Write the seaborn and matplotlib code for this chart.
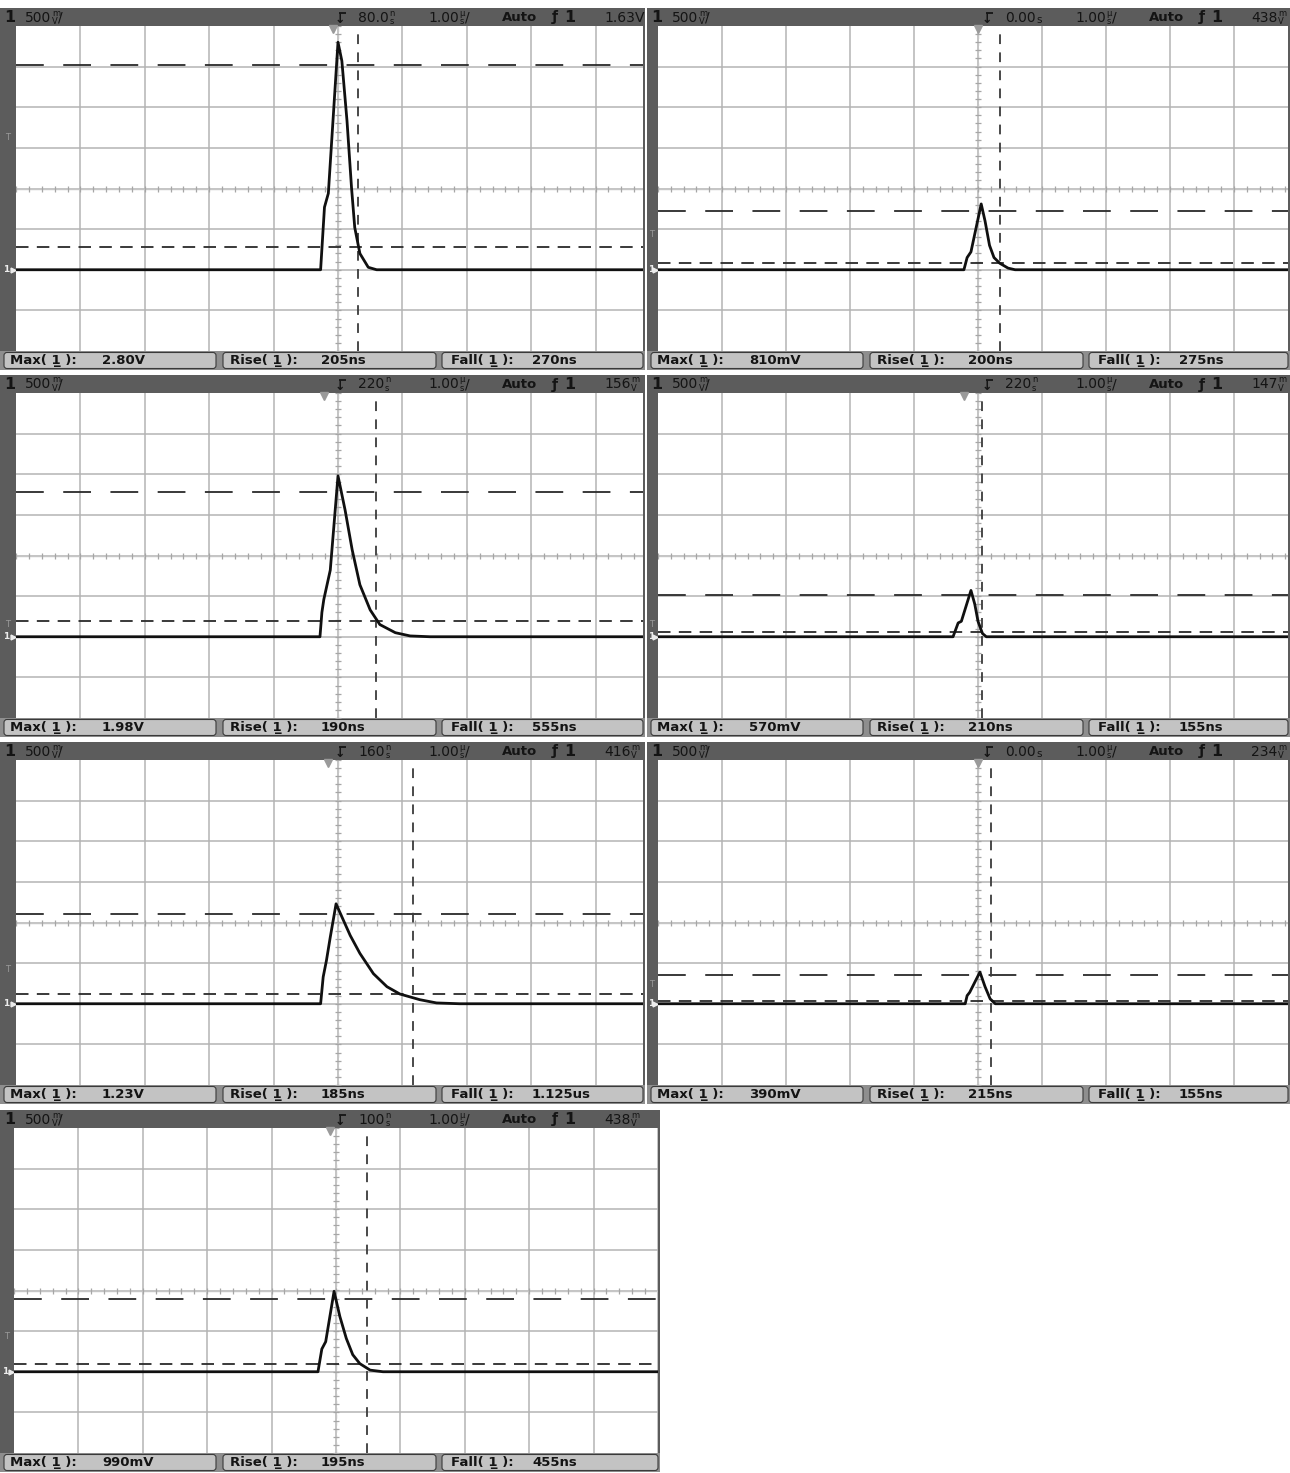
import numpy as np
import pandas as pd
import matplotlib
matplotlib.use("Agg")
import matplotlib.pyplot as plt
import seaborn as sns
from matplotlib.patches import Rectangle, FancyBboxPatch

# ---- values (time in us from screen centre, volts above ground) ----
p1_t = [-0.27, -0.21, -0.15, 0.00, 0.06, 0.14, 0.21, 0.26, 0.34, 0.47, 0.60]
p1_v = [0.00, 0.77, 0.94, 2.80, 2.57, 1.83, 1.01, 0.52, 0.20, 0.03, 0.00]
p2_t = [-0.22, -0.17, -0.11, 0.05, 0.11, 0.18, 0.25, 0.34, 0.47, 0.58]
p2_v = [0.00, 0.15, 0.22, 0.81, 0.60, 0.30, 0.15, 0.08, 0.02, 0.00]
p3_t = [-0.28, -0.25, -0.22, -0.12, 0.00, 0.11, 0.22, 0.34, 0.50, 0.65, 0.89, 1.12, 1.43]
p3_v = [0.00, 0.30, 0.46, 0.82, 1.98, 1.56, 1.07, 0.64, 0.33, 0.15, 0.05, 0.01, 0.00]
p4_t = [-0.39, -0.31, -0.26, -0.11, -0.05, 0.00, 0.07, 0.13]
p4_v = [0.00, 0.17, 0.19, 0.57, 0.40, 0.19, 0.04, 0.00]
p5_t = [-0.27, -0.23, -0.18, -0.12, -0.03, 0.06, 0.19, 0.34, 0.55, 0.76, 0.96, 1.27, 1.53, 1.89]
p5_v = [0.00, 0.33, 0.53, 0.82, 1.23, 1.07, 0.84, 0.62, 0.37, 0.21, 0.12, 0.05, 0.01, 0.00]
p6_t = [-0.20, -0.17, -0.13, 0.03, 0.11, 0.19, 0.27]
p6_v = [0.00, 0.10, 0.14, 0.39, 0.21, 0.06, 0.00]
p7_t = [-0.28, -0.22, -0.16, -0.03, 0.06, 0.16, 0.26, 0.37, 0.53, 0.73]
p7_v = [0.00, 0.28, 0.37, 0.99, 0.68, 0.41, 0.21, 0.10, 0.02, 0.00]

traces_t = [p1_t, p2_t, p3_t, p4_t, p5_t, p6_t, p7_t]
traces_v = [p1_v, p2_v, p3_v, p4_v, p5_v, p6_v, p7_v]

delay_num = ["80.0", "0.00", "220", "220", "160", "0.00", "100"]
delay_unit = ["ns", "s", "ns", "ns", "ns", "s", "ns"]
delay_us = [0.08, 0.0, 0.22, 0.22, 0.16, 0.0, 0.10]
trig_num = ["1.63", "438", "156", "147", "416", "234", "438"]
trig_unit = ["V", "mV", "mV", "mV", "mV", "mV", "mV"]
trig_level = [1.63, 0.438, 0.156, 0.147, 0.416, 0.234, 0.438]
max_text = ["2.80V", "810mV", "1.98V", "570mV", "1.23V", "390mV", "990mV"]
max_v = [2.80, 0.81, 1.98, 0.57, 1.23, 0.39, 0.99]
rise_text = ["205ns", "200ns", "190ns", "210ns", "185ns", "215ns", "195ns"]
fall_text = ["270ns", "275ns", "555ns", "155ns", "1.125us", "155ns", "455ns"]
marker_t = [0.31, 0.34, 0.59, 0.06, 1.16, 0.20, 0.48]

VOLTS_PER_DIV = 0.5
GROUND_DIV = -2

# ---- screen geometry (pixels) ----
W_PX, H_PX = 1290, 1473
PANEL_X = [0, 647, 0, 647, 0, 647, 0]
PANEL_W = [645, 643, 645, 643, 645, 643, 660]
ROW_TOP = [8, 8, 375, 375, 742, 742, 1110]
GRID_LEFT = [16, 11, 16, 11, 16, 11, 14]
GRID_RIGHT = [643, 641, 643, 641, 643, 641, 658]
PX_DIV = [64.4, 64.0, 64.4, 64.0, 64.4, 64.0, 64.4]
HEAD_H, GRID_H, FOOT_H = 18, 325, 19

DARK = "#5c5c5c"
TXT = "#141414"
GRIDC = "#b4b4b4"

sns.set_style("white")
plt.rcParams["font.family"] = ["DejaVu Sans"]
plt.rcParams["lines.scale_dashes"] = False

fig = plt.figure(figsize=(W_PX / 100, H_PX / 100), dpi=100)
fig.patch.set_facecolor("white")
bg = fig.add_axes([0, 0, 1, 1], zorder=0)
bg.set_xlim(0, W_PX)
bg.set_ylim(H_PX, 0)
bg.axis("off")


def px_rect(x, y, w, h):
    return [x / W_PX, 1 - (y + h) / H_PX, w / W_PX, h / H_PX]


def put_value(x, y, num, unit, tail="", size=10, weight="normal"):
    t = bg.text(x, y, num, fontsize=size, va="center", ha="left", color=TXT, weight=weight)
    last = t
    small = size * 0.6
    if unit in ("ns", "mV", "us"):
        top, bot = {"ns": ("n", "s"), "mV": ("m", "V"), "us": ("µ", "s")}[unit]
        bg.annotate(top, xy=(1, 0.5), xycoords=t, xytext=(0.6, 0.0), textcoords="offset points",
                    fontsize=small, va="bottom", ha="left", color=TXT)
        last = bg.annotate(bot, xy=(1, 0.5), xycoords=t, xytext=(0.6, 0.6), textcoords="offset points",
                           fontsize=small, va="top", ha="left", color=TXT)
    elif unit == "s":
        last = bg.annotate("s", xy=(1, 0.3), xycoords=t, xytext=(0.5, 0), textcoords="offset points",
                           fontsize=size * 0.75, va="center", ha="left", color=TXT)
    elif unit == "V":
        last = bg.annotate("V", xy=(1, 0.5), xycoords=t, xytext=(0.3, 0), textcoords="offset points",
                           fontsize=size, va="center", ha="left", color=TXT, weight=weight)
    if tail:
        bg.annotate(tail, xy=(1, 0.5), xycoords=(last, t), xytext=(0.4, 0), textcoords="offset points",
                    fontsize=size, va="center", ha="left", color=TXT)


for i in range(7):
    x0, w, top = PANEL_X[i], PANEL_W[i], ROW_TOP[i]
    grid_top = top + HEAD_H
    foot_top = grid_top + GRID_H

    # dark frame (header strip + left bar)
    bg.add_patch(Rectangle((x0, top), w, HEAD_H + GRID_H, color=DARK, lw=0))

    # header text
    hy = top + HEAD_H / 2 + 0.5
    bg.text(x0 + 4, hy, "1", fontsize=11.5, weight="bold", va="center", ha="left", color=TXT)
    put_value(x0 + 25, hy, "500", "mV", tail="/")
    bg.text(x0 + 335, hy + 2, "↓", fontsize=9, weight="bold", va="center", ha="left", color=TXT)
    bg.plot([x0 + 339, x0 + 346], [top + 5, top + 5], color=TXT, lw=1.3, solid_capstyle="butt")
    put_value(x0 + 358, hy, delay_num[i], delay_unit[i])
    put_value(x0 + 428, hy, "1.00", "us", tail="/")
    bg.text(x0 + 502, hy, "Auto", fontsize=9.5, weight="bold", va="center", ha="left", color=TXT)
    bg.text(x0 + 552, hy, "ƒ", fontsize=10, weight="bold", va="center", ha="left", color=TXT)
    bg.text(x0 + 564, hy, "1", fontsize=11.5, weight="bold", va="center", ha="left", color=TXT)
    put_value(x0 + 604, hy, trig_num[i], trig_unit[i])

    # footer with three measurement boxes
    bg.add_patch(Rectangle((x0, foot_top), w, FOOT_H, color="#8e8e8e", lw=0))
    boxes = [(x0 + 4, 212), (x0 + 223, 213), (x0 + 442, w - 444)]
    for bx, bw in boxes:
        bg.add_patch(FancyBboxPatch((bx, foot_top + 1.5), bw, FOOT_H - 3,
                                    boxstyle="round,pad=0,rounding_size=3",
                                    fc="#c3c3c3", ec="#3a3a3a", lw=0.8))
    fy = foot_top + FOOT_H / 2
    for lx, vx, label, value in [(10, 102, "Max", max_text[i]),
                                 (230, 321, "Rise", rise_text[i]),
                                 (451, 532, "Fall", fall_text[i])]:
        bg.text(x0 + lx, fy, label + "( 1\u0332 ):", fontsize=9.5, weight="bold",
                va="center", ha="left", color=TXT)
        bg.text(x0 + vx, fy, value, fontsize=9.5, weight="bold", va="center", ha="left", color=TXT)

    # graticule axes
    gl, gr = x0 + GRID_LEFT[i], x0 + GRID_RIGHT[i]
    ax = fig.add_axes(px_rect(gl, grid_top, gr - gl, GRID_H), zorder=2)
    ax.set_facecolor("white")
    xmax = -5 + (gr - gl) / PX_DIV[i]
    ax.set_xlim(-5, xmax)
    ax.set_ylim(-4, 4)
    ax.set_xticks(np.arange(-4, np.floor(xmax) + 1))
    ax.set_yticks(np.arange(-3, 4))
    ax.grid(True, color=GRIDC, lw=1.1)
    ax.tick_params(length=0, labelbottom=False, labelleft=False)
    for s in ax.spines.values():
        s.set_visible(False)

    # centre lines with minor ticks
    ax.axhline(0, color="#c6c6c6", lw=1.0, zorder=1)
    ax.axvline(0, color="#c6c6c6", lw=1.0, ls=(0, (3, 2)), zorder=1)
    hx = np.arange(-5, xmax, 0.2)
    ax.scatter(hx, np.zeros_like(hx), marker="|", s=22, color="#a6a6a6", lw=0.9, zorder=1)
    vy = np.arange(-4, 4.01, 0.2)
    ax.scatter(np.zeros_like(vy), vy, marker="_", s=18, color="#a6a6a6", lw=0.9, zorder=1)

    # measurement threshold lines and fall marker
    hi = GROUND_DIV + 0.9 * max_v[i] / VOLTS_PER_DIV
    lo = GROUND_DIV + 0.1 * max_v[i] / VOLTS_PER_DIV
    ax.axhline(hi, color="#2a2a2a", lw=1.3, dashes=(20, 14), zorder=2)
    ax.axhline(lo, color="#2a2a2a", lw=1.3, dashes=(9, 6), zorder=2)
    ax.axvline(marker_t[i], color="#3a3a3a", lw=1.3, dashes=(7, 6), zorder=2)

    # the pulse
    t = [-5] + traces_t[i] + [xmax]
    v = [0] + traces_v[i] + [0]
    df = pd.DataFrame({"t": t, "div": [GROUND_DIV + x / VOLTS_PER_DIV for x in v]})
    sns.lineplot(data=df, x="t", y="div", sort=False, estimator=None, ax=ax,
                 color="#101010", lw=2.0, zorder=4)
    ax.set_xlabel("")
    ax.set_ylabel("")

    # side markers on the dark bar: ground "1", trigger level "T"; trigger position on top
    side_x = x0 + GRID_LEFT[i] * 0.45

    def to_px(div):
        return grid_top + (4 - div) / 8 * GRID_H

    bg.text(side_x - 1, to_px(GROUND_DIV), "1", fontsize=6.5, color="#ececec", weight="bold",
            va="center", ha="center")
    bg.plot([x0 + GRID_LEFT[i] - 3], [to_px(GROUND_DIV)], marker=">", ms=3.5, color="#ececec")
    bg.text(side_x, to_px(GROUND_DIV + trig_level[i] / VOLTS_PER_DIV), "T", fontsize=6,
            color="#9a9a9a", va="center", ha="center")
    ax.plot([-delay_us[i]], [3.93], marker="v", ms=6, color="#9a9a9a", clip_on=False, zorder=5)

fig.savefig("out.png", dpi=100, facecolor="white")
